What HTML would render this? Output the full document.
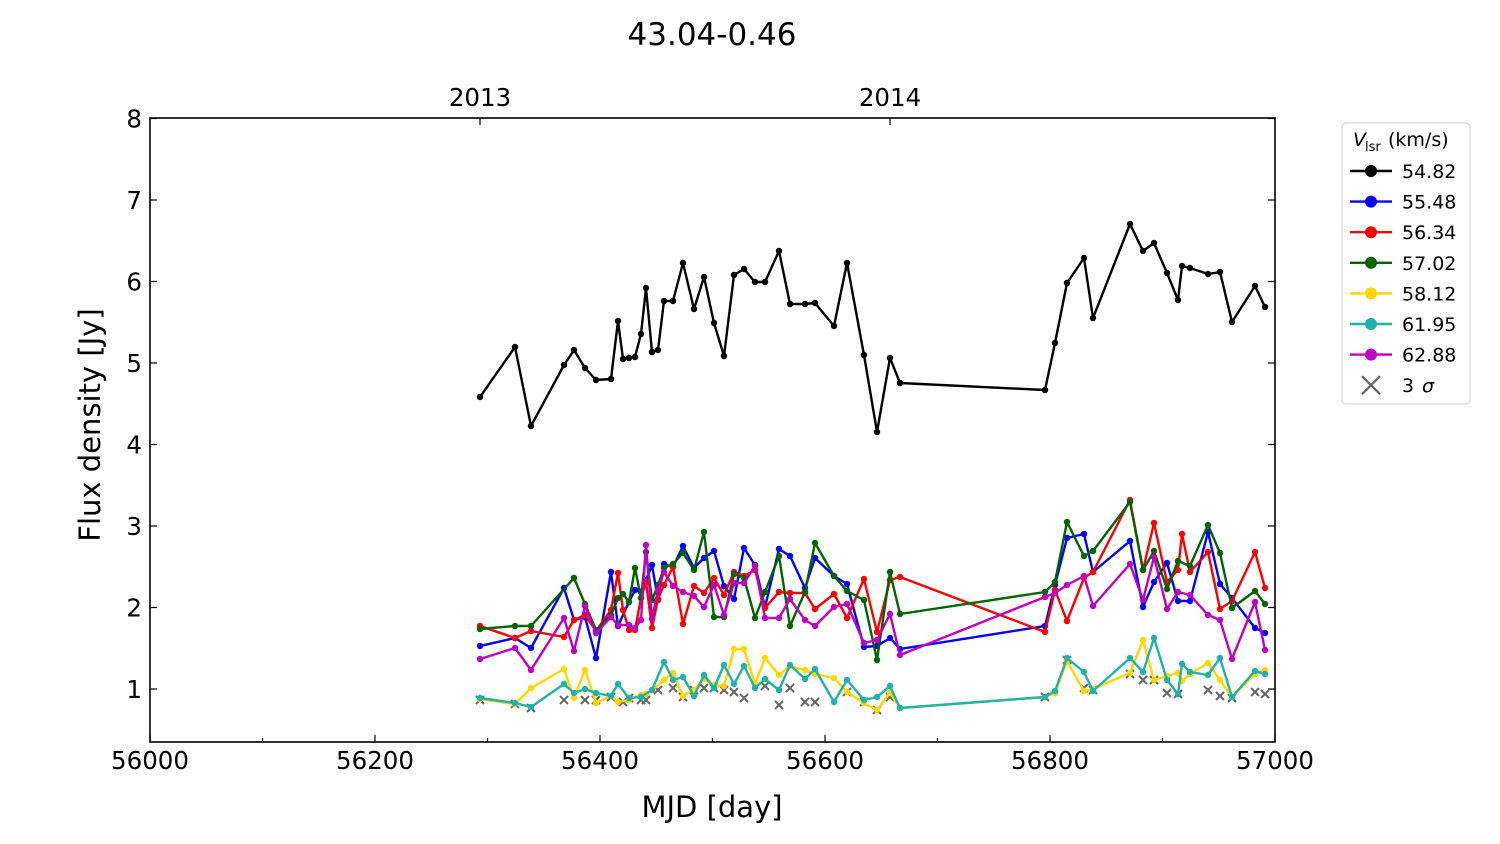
<!DOCTYPE html>
<html><head><meta charset="utf-8"><style>
body{margin:0;background:#fff;}
svg{display:block;font-family:"DejaVu Sans","Liberation Sans",sans-serif;}
</style></head><body>
<svg id="s" width="1500" height="844" xmlns="http://www.w3.org/2000/svg">
<rect width="1500" height="844" fill="#fff"/>
<text x="712" y="45" font-size="31" text-anchor="middle">43.04-0.46</text>
<text x="712" y="817" font-size="29" text-anchor="middle">MJD [day]</text>
<text transform="translate(100,425) rotate(-90)" font-size="29" text-anchor="middle">Flux density [Jy]</text>
<g id="ax"></g>
<g id="data"></g>
<rect x="150" y="118" width="1125" height="624" fill="none" stroke="#000" stroke-width="1.6"/>
<g>
<rect x="1342" y="123" width="128" height="281" rx="4" fill="#fff" stroke="#ccc"/>
<text x="1353" y="146" font-size="19" font-style="italic">V</text>
<text x="1365" y="151" font-size="13">lsr</text>
<text x="1388" y="146" font-size="19">(km/s)</text>
<g id="leg"></g>
</g>
</svg>
<script>
const NS="http://www.w3.org/2000/svg";
function el(p,t,a,txt){const e=document.createElementNS(NS,t);for(const k in a)e.setAttribute(k,a[k]);if(txt!==undefined)e.textContent=txt;p.appendChild(e);return e;}
const ax=document.getElementById('ax');
for(let m=56000;m<=57000;m+=100){const x=150+(m-56000)*1.125;const maj=m%200==0;
el(ax,'line',{x1:x,x2:x,y1:742,y2:742-(maj?7:4),stroke:'#000','stroke-width':1.2});
if(maj)el(ax,'text',{x:x,y:769,'font-size':24.5,'text-anchor':'middle'},m);}
[[480,'2013'],[890,'2014']].forEach(([x,t])=>{el(ax,'line',{x1:x,x2:x,y1:118,y2:125,stroke:'#000','stroke-width':1.2});el(ax,'text',{x:x,y:106,'font-size':24.5,'text-anchor':'middle'},t);});
for(let v=1;v<=8;v++){const y=689-(v-1)*81.5;
el(ax,'line',{x1:150,x2:157,y1:y,y2:y,stroke:'#000','stroke-width':1.2});
el(ax,'line',{x1:1268,x2:1275,y1:y,y2:y,stroke:'#000','stroke-width':1.2});
el(ax,'text',{x:142,y:y+9,'font-size':24.5,'text-anchor':'end'},v);}
const S={
'#000':[[480,397],[515,347],[531,426],[564,365],[574,350],[585,368],[596,380],[611,379],[618,321],[623,359],[629,358],[635,357],[641,334],[646,288],[652,352],[658,350],[664,301],[673,301],[683,263],[694,309],[704,277],[714,323],[724,356],[734,275],[744,269],[755,282],[765,282],[779,251],[790,304],[805,304],[815,303],[834,326],[847,263],[864,355],[877,432],[890,358],[900,383],[1045,390],[1055,343],[1067,283],[1084,258],[1093,318],[1130,224],[1143,251],[1154,243],[1167,273],[1178,300],[1182,266],[1190,268],[1208,274],[1220,272],[1232,322],[1255,286],[1265,307]],
'#0000ff':[[480,646],[515,638],[531,648],[564,588],[574,620],[585,617],[596,658],[611,572],[618,626],[629,602],[635,590],[641,592],[646,580],[652,565],[658,600],[664,564],[673,567],[683,546],[694,568],[704,558],[714,551],[724,586],[734,599],[744,548],[755,565],[765,607],[779,549],[790,556],[805,588],[815,558],[834,576],[847,584],[864,647],[877,646],[890,638],[900,649],[1045,626],[1055,585],[1067,538],[1084,534],[1093,572],[1130,541],[1143,607],[1154,582],[1167,563],[1178,601],[1190,601],[1208,532],[1220,584],[1232,598],[1255,628],[1265,633]],
'#ff0000':[[480,626],[515,638],[531,631],[564,637],[574,620],[585,615],[596,631],[611,610],[618,573],[623,610],[629,630],[635,630],[641,598],[646,582],[652,628],[658,599],[664,585],[673,567],[683,624],[694,586],[704,593],[714,578],[724,595],[734,572],[744,576],[755,570],[765,608],[779,592],[790,593],[805,593],[815,609],[834,594],[847,618],[864,579],[877,632],[890,580],[900,577],[1045,632],[1055,590],[1067,621],[1084,578],[1093,572],[1130,500],[1143,570],[1154,523],[1167,582],[1178,570],[1182,534],[1190,572],[1208,552],[1220,609],[1232,601],[1255,552],[1265,588]],
'#006400':[[480,629],[515,626],[531,626],[574,578],[585,604],[596,630],[611,615],[618,598],[623,594],[629,602],[635,568],[641,598],[646,552],[652,600],[658,585],[664,568],[673,564],[683,553],[694,570],[704,532],[714,617],[724,617],[734,574],[744,578],[755,618],[765,592],[779,556],[790,626],[805,592],[815,543],[834,576],[847,591],[864,600],[877,660],[890,572],[900,614],[1045,592],[1055,582],[1067,522],[1084,556],[1093,551],[1130,502],[1143,570],[1154,551],[1167,589],[1178,561],[1190,566],[1208,525],[1220,553],[1232,608],[1255,591],[1265,604]],
'#ffd700':[[480,699],[515,704],[531,688],[564,669],[574,698],[585,670],[596,703],[611,696],[618,702],[629,700],[641,695],[646,694],[652,690],[664,680],[673,673],[683,696],[694,690],[704,679],[714,685],[724,686],[734,649],[744,649],[755,684],[765,658],[779,675],[790,666],[805,670],[815,674],[834,678],[847,692],[864,703],[877,710],[890,693],[900,708],[1045,697],[1055,693],[1067,661],[1084,691],[1093,689],[1130,673],[1143,640],[1154,680],[1167,676],[1178,673],[1182,681],[1190,674],[1208,663],[1220,680],[1232,697],[1255,674],[1265,670]],
'#20b2aa':[[480,698],[515,703],[531,707],[564,684],[574,693],[585,689],[596,693],[611,696],[618,684],[629,698],[641,697],[652,690],[664,662],[673,680],[683,677],[694,696],[704,675],[714,688],[724,665],[734,684],[744,666],[755,688],[765,679],[779,690],[790,665],[805,679],[815,669],[834,702],[847,680],[864,700],[877,697],[890,686],[900,708],[1045,697],[1055,691],[1067,658],[1084,672],[1093,691],[1130,658],[1143,672],[1154,638],[1167,680],[1178,694],[1182,664],[1190,672],[1208,675],[1220,658],[1232,697],[1255,671],[1265,674]],
'#bf00bf':[[480,659],[515,648],[531,670],[564,618],[574,651],[585,606],[596,633],[611,617],[618,625],[629,625],[635,628],[641,620],[646,545],[652,619],[658,590],[664,572],[673,586],[683,592],[694,596],[704,607],[714,585],[724,615],[734,583],[744,583],[755,566],[765,618],[779,618],[790,599],[805,620],[815,626],[834,607],[847,604],[864,643],[877,640],[890,614],[900,655],[1045,597],[1055,593],[1067,585],[1084,576],[1093,606],[1130,564],[1143,600],[1154,557],[1167,609],[1178,592],[1190,595],[1208,615],[1220,620],[1232,659],[1255,602],[1265,650]]};
const d=document.getElementById('data');
const gx=[[480,700],[515,704],[531,708],[564,700],[585,700],[596,700],[611,697],[623,702],[629,698],[641,700],[646,700],[658,690],[673,688],[683,697],[694,690],[704,688],[714,688],[724,690],[734,692],[744,698],[765,686],[779,705],[790,688],[805,702],[815,702],[847,692],[864,702],[877,710],[890,697],[1045,697],[1067,660],[1084,688],[1093,690],[1130,674],[1143,680],[1154,680],[1167,693],[1178,694],[1208,690],[1220,696],[1232,698],[1255,692],[1265,694]];
gx.forEach(([x,y])=>{el(d,'path',{d:`M${x-4},${y-4}L${x+4},${y+4}M${x-4},${y+4}L${x+4},${y-4}`,stroke:'#666','stroke-width':2});});
const order=['#0000ff','#ff0000','#006400','#ffd700','#20b2aa','#bf00bf','#000'];
order.forEach(c=>{const p=S[c];el(d,'polyline',{points:p.map(q=>q.join(',')).join(' '),fill:'none',stroke:c,'stroke-width':2.4,'stroke-linejoin':'round'});
p.forEach(([x,y])=>el(d,'circle',{cx:x,cy:y,r:3.2,fill:c}));});
const leg=document.getElementById('leg');
const L=[['#000','54.82'],['#0000ff','55.48'],['#ff0000','56.34'],['#006400','57.02'],['#ffd700','58.12'],['#20b2aa','61.95'],['#bf00bf','62.88']];
L.forEach(([c,t],i)=>{const y=171+i*30.6;el(leg,'line',{x1:1350,x2:1392,y1:y,y2:y,stroke:c,'stroke-width':2.4});el(leg,'circle',{cx:1371,cy:y,r:6,fill:c});el(leg,'text',{x:1402,y:y+7,'font-size':19},t);});
const y8=171+7*30.6;el(leg,'path',{d:`M1362,${y8-9}L1380,${y8+9}M1362,${y8+9}L1380,${y8-9}`,stroke:'#666','stroke-width':2.2});
el(leg,'text',{x:1402,y:y8+7,'font-size':19},'3 ');el(leg,'text',{x:1422,y:y8+7,'font-size':19,'font-style':'italic'},'σ');
</script>
</body></html>
